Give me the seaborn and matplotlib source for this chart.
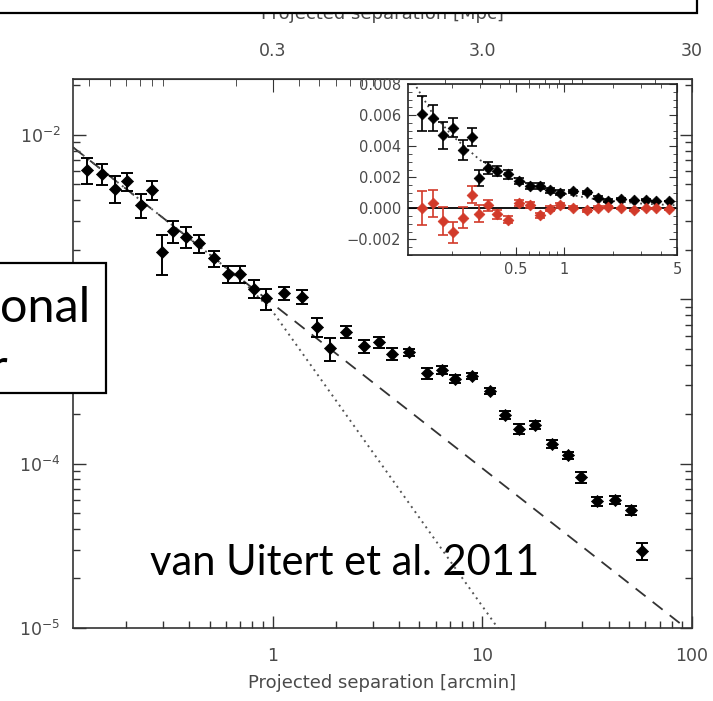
import numpy as np
import pandas as pd
import matplotlib
matplotlib.use("Agg")
import matplotlib.pyplot as plt
import seaborn as sns
from matplotlib.patches import Rectangle
from matplotlib.ticker import FixedLocator, FixedFormatter, LogLocator, NullFormatter, MultipleLocator

# ---------------- data ----------------
sep_arcmin = [0.130, 0.154, 0.177, 0.203, 0.236, 0.266, 0.297, 0.334, 0.384, 0.446,
              0.524, 0.609, 0.702, 0.812, 0.933, 1.128, 1.375, 1.626, 1.87, 2.24,
              2.72, 3.23, 3.71, 4.46, 5.45, 6.43, 7.43, 8.89, 10.9, 12.8,
              14.9, 17.8, 21.6, 25.6, 29.5, 35.2, 42.8, 51.1, 58.0]
gamma_t = [0.0061, 0.0058, 0.0047, 0.0052, 0.00374, 0.00459, 0.00194, 0.00259, 0.0024, 0.00218,
           0.00177, 0.00143, 0.00143, 0.00116, 0.00101, 0.00109, 0.00103, 0.00068, 0.000501, 0.000634,
           0.000518, 0.000546, 0.000465, 0.000474, 0.000354, 0.000372, 0.000327, 0.00034, 0.000277, 0.000198,
           0.000162, 0.000172, 0.000132, 0.000112, 0.0000826, 0.0000588, 0.0000601, 0.0000521, 0.0000293]
gamma_t_err = [0.0011, 0.00085, 0.00088, 0.00064, 0.00064, 0.0006, 0.00053, 0.00041, 0.00035, 0.00027,
               0.0002, 0.00017, 0.00017, 0.00015, 0.00015, 0.0001, 0.0001, 0.00009, 0.00008, 0.00005,
               0.00005, 0.00004, 0.00004, 0.00002, 0.000025, 0.00002, 0.00002, 0.000015, 0.000013, 0.000011,
               0.000011, 0.000009, 0.000007, 0.000006, 0.0000065, 0.0000035, 0.0000036, 0.0000034, 0.0000035]
gamma_x = [0.0, 0.00032, -0.0008, -0.00154, -0.00059, 0.00089, -0.00034, 0.00021, -0.00038, -0.00074,
           0.00036, 0.00021, -0.00044, -0.00003, 0.0002, 0.00004, -0.00013, 0.00004, 0.00008, 0.0,
           -0.00013, 0.0, 0.0, -0.00006]
gamma_x_err = [0.0011, 0.00085, 0.0009, 0.00067, 0.00067, 0.00057, 0.00053, 0.00035, 0.0003, 0.00022,
               0.0002, 0.00017, 0.00017, 0.00015, 0.00015, 0.0001, 0.0001, 0.00009, 0.00008, 0.00005,
               0.00005, 0.00004, 0.00004, 0.00002]

# model curves (main panel, log-log)
dashed_x = [0.1116, 90.0]
dashed_y = [0.00838, 0.0000104]
dotted_x = [0.1116, 0.52, 0.75, 1.0, 11.6, 13.0]
dotted_y = [0.00838, 0.0018, 0.00122, 0.00084, 0.0000104, 0.0000085]
# model curve as seen in the linear inset
inset_model_x = [0.107, 0.15, 0.2, 0.3, 0.5, 0.7, 1.0, 1.5, 2.0, 3.0, 5.0]
inset_model_y = [0.0087, 0.0062, 0.0047, 0.0031, 0.0019, 0.00134, 0.00094, 0.00062, 0.00047, 0.00031, 0.00019]

mpc_ticks = [0.3, 3.0, 30]
mpc_labels = ["0.3", "3.0", "30"]
inset_xticks = [0.5, 1, 5]
inset_xlabels = ["0.5", "1", "5"]

df = pd.DataFrame({"sep": sep_arcmin, "gt": gamma_t, "err": gamma_t_err})
nx = len(gamma_x)
dfx = pd.DataFrame({"sep": sep_arcmin[:nx], "gx": gamma_x, "err": gamma_x_err})
dfi = df.iloc[:nx]

# ---------------- figure ----------------
sns.set_style("ticks")
plt.rcParams["font.family"] = ["DejaVu Sans"]
W, H = 713, 701
fig = plt.figure(figsize=(W / 100, H / 100), dpi=100)

def fr(x0, y0, x1, y1):
    return [x0 / W, 1 - y1 / H, (x1 - x0) / W, (y1 - y0) / H]

ax = fig.add_axes(fr(73, 79, 692, 628))
gray = "#4a4a4a"

sns.lineplot(x=dashed_x, y=dashed_y, ax=ax, color="#333333", lw=1.3, linestyle=(0, (7, 5)), sort=False)
sns.lineplot(x=dotted_x, y=dotted_y, ax=ax, color="#555555", lw=1.4, linestyle=(0, (1, 2.2)), sort=False)

ax.errorbar(df["sep"], df["gt"], yerr=df["err"], fmt="none", ecolor="black", elinewidth=1.4,
            capsize=4.5, capthick=1.4, zorder=3)
sns.scatterplot(data=df, x="sep", y="gt", ax=ax, marker="D", s=38, color="black",
                edgecolor="black", linewidth=0.5, zorder=4)

ax.set_xscale("log")
ax.set_yscale("log")
ax.set_xlim(0.1116, 100)
ax.set_ylim(1e-5, 0.0218)
ax.set_xlabel("Projected separation [arcmin]", fontsize=13, color=gray, labelpad=6)
ax.set_ylabel("")
ax.xaxis.set_major_locator(FixedLocator([1, 10, 100]))
ax.xaxis.set_major_formatter(FixedFormatter(["1", "10", "100"]))
ax.xaxis.set_minor_locator(LogLocator(base=10, subs=np.arange(2, 10)))
ax.xaxis.set_minor_formatter(NullFormatter())
ax.yaxis.set_minor_locator(LogLocator(base=10, subs=np.arange(2, 10)))
ax.yaxis.set_minor_formatter(NullFormatter())
ax.tick_params(which="both", direction="in", top=False, right=True, colors="#333333",
               labelcolor=gray, labelsize=12.5)
ax.tick_params(which="major", length=9, width=1.0)
ax.tick_params(which="minor", length=5, width=1.0)
ax.tick_params(axis="x", which="major", pad=14)
ax.tick_params(axis="y", which="major", pad=9)
for s in ax.spines.values():
    s.set_color("#333333")
    s.set_linewidth(1.2)

sec = ax.secondary_xaxis("top", functions=(lambda x: x * 0.3, lambda x: x / 0.3))
sec.set_xticks(mpc_ticks)
sec.set_xticklabels(mpc_labels)
sec.xaxis.set_minor_locator(LogLocator(base=10, subs=np.arange(2, 10)))
sec.xaxis.set_minor_formatter(NullFormatter())
sec.tick_params(which="both", direction="in", colors="#333333", labelcolor=gray, labelsize=12.5)
sec.tick_params(which="major", length=9, pad=14)
sec.tick_params(which="minor", length=5)
sec.set_xlabel("Projected separation [Mpc]", fontsize=13, color=gray, labelpad=16)

# ---------------- inset ----------------
axi = fig.add_axes(fr(408, 84, 677, 255))
sns.lineplot(x=inset_model_x, y=inset_model_y, ax=axi, color="#444444", lw=1.3,
             linestyle=(0, (1, 2)), sort=False)
axi.axhline(0, color="black", lw=1.3, zorder=2)
axi.errorbar(dfi["sep"], dfi["gt"], yerr=dfi["err"], fmt="none", ecolor="black", elinewidth=1.2,
             capsize=3.5, capthick=1.2, zorder=3)
sns.scatterplot(data=dfi, x="sep", y="gt", ax=axi, marker="D", s=30, color="black",
                edgecolor="black", linewidth=0.5, zorder=4)
red = "#d23a2a"
axi.errorbar(dfx["sep"], dfx["gx"], yerr=dfx["err"], fmt="none", ecolor=red, elinewidth=1.2,
             capsize=3.5, capthick=1.2, zorder=3)
sns.scatterplot(data=dfx, x="sep", y="gx", ax=axi, marker="D", s=30, color=red,
                edgecolor=red, linewidth=0.5, zorder=4)
axi.set_xscale("log")
axi.set_xlim(0.107, 5.0)
axi.set_ylim(-0.003, 0.008)
axi.set_xlabel("")
axi.set_ylabel("")
axi.xaxis.set_major_locator(FixedLocator(inset_xticks))
axi.xaxis.set_major_formatter(FixedFormatter(inset_xlabels))
axi.xaxis.set_minor_locator(LogLocator(base=10, subs=np.arange(2, 10)))
axi.xaxis.set_minor_formatter(NullFormatter())
axi.yaxis.set_major_locator(MultipleLocator(0.002))
axi.yaxis.set_minor_locator(MultipleLocator(0.0005))
axi.yaxis.set_major_formatter(plt.FuncFormatter(lambda v, p: f"{v:.3f}".replace("-", "\u2212")))
axi.tick_params(which="both", direction="in", top=True, right=True, colors="#333333",
                labelcolor=gray, labelsize=10.5)
axi.tick_params(which="major", length=6, pad=5)
axi.tick_params(which="minor", length=3)
for s in axi.spines.values():
    s.set_color("#222222")
    s.set_linewidth(1.2)

# ---------------- slide overlays ----------------
fig.add_artist(Rectangle((-3 / W, 1 - 13 / H), 700 / W, 20 / H, transform=fig.transFigure,
                         facecolor="white", edgecolor="black", lw=1.6, zorder=20))
fig.add_artist(Rectangle((-3 / W, 1 - 393 / H), 109 / W, 130 / H, transform=fig.transFigure,
                         facecolor="white", edgecolor="black", lw=1.6, zorder=20))
fig.text(0 / W, 1 - 322 / H, "onal", fontsize=35, family=["Lato", "DejaVu Sans"],
         color="black", ha="left", va="baseline", zorder=21)
fig.text(7.5 / W, 1 - 383 / H, "r", fontsize=35, family=["Lato", "DejaVu Sans"],
         color="black", ha="right", va="baseline", zorder=21)
fig.text(150 / W, 1 - 575 / H, "van Uitert et al. 2011", fontsize=30, family=["Lato", "DejaVu Sans"],
         color="black", ha="left", va="baseline", zorder=21)

fig.savefig("out.png", dpi=100)
